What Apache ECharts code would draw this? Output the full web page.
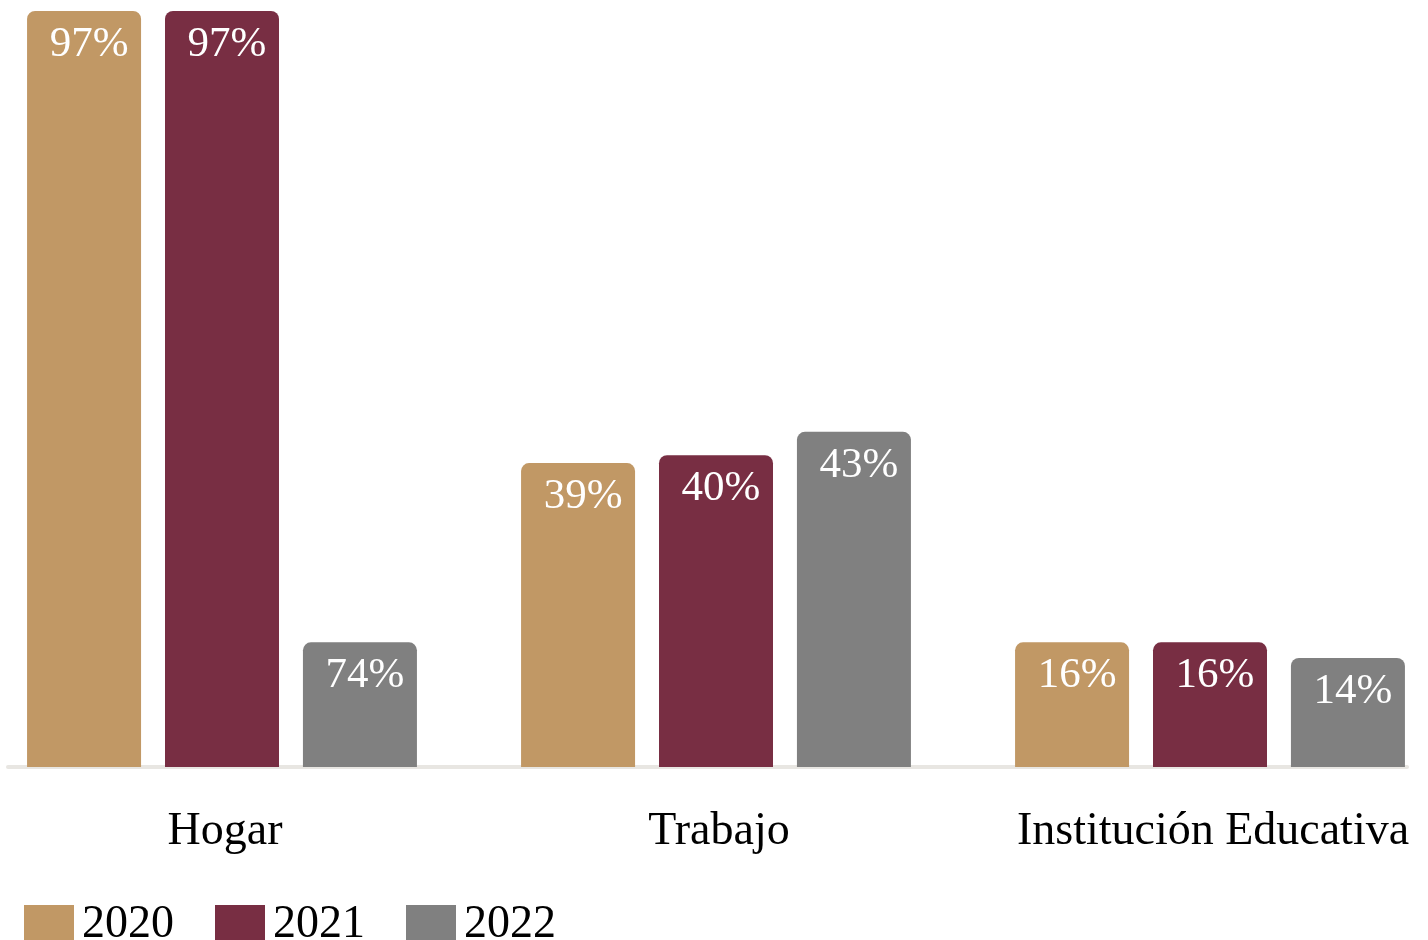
<!DOCTYPE html>
<html>
<head>
<meta charset="utf-8">
<script src="https://cdn.jsdelivr.net/npm/echarts@6/dist/echarts.min.js"></script>
<style>
  html, body { margin: 0; padding: 0; background: #fff; overflow: hidden; }
  #chart { width: 1482px; height: 940px; margin-left: -25px; }
</style>
</head>
<body>
<div id="chart"></div>
<script>
  // categorias y valores (%) tal como se dibujan
  var categories = ['Hogar', 'Trabajo', 'Institución Educativa'];
  var years = ['2020', '2021', '2022'];
  var data2020 = [97, 39, 16];
  var data2021 = [97, 40, 16];
  var data2022 = [16, 43, 14];
  // textos de etiqueta (en el original la barra de Hogar 2022 dice 74%)
  var labels2020 = ['97%', '39%', '16%'];
  var labels2021 = ['97%', '40%', '16%'];
  var labels2022 = ['74%', '43%', '14%'];
  var colors = ['#C19865', '#782E43', '#808080'];

  var serif = "'Liberation Serif', 'Times New Roman', serif";
  var myChart = echarts.init(document.getElementById('chart'));

  function barSeries(name, data, labels, color){
    return {
      name: name,
      type: 'bar',
      xAxisIndex: 0,
      yAxisIndex: 0,
      barWidth: 114,
      barGap: '21%',
      data: data,
      itemStyle: {
        color: color,
        borderRadius: [8, 8, 0, 0]
      },
      label: {
        show: true,
        position: 'insideTop',
        distance: 12,
        offset: [5, 0],
        color: '#fff',
        fontFamily: serif,
        fontSize: 43,
        formatter: function(p){ return labels[p.dataIndex] }
      }
    }
  }

  var option = {
    animation: false,
    backgroundColor: '#fff',
    color: colors,
    grid: [
      { left: 0, right: 0, top: 11, bottom: 173 },
      { left: 33, right: 50, top: 11, bottom: 173 }
    ],
    legend: {
      data: years,
      left: 44,
      top: 897,
      itemWidth: 50,
      itemHeight: 40,
      itemGap: 41,
      icon: 'rect',
      textStyle: { fontFamily: serif, fontSize: 46, color: '#000', padding: [0, 0, 0, 3] }
    },
    xAxis: [
      {
        type: 'category',
        gridIndex: 0,
        data: categories,
        axisLine: { show: false },
        axisTick: { show: false },
        axisLabel: {
          interval: 0,
          margin: 42,
          color: '#000',
          fontFamily: serif,
          fontSize: 46,
          padding: [0, 0, 0, 6]
        }
      },
      {
        // linea base
        type: 'category',
        gridIndex: 1,
        data: categories,
        axisLine: { show: true, lineStyle: { color: '#E8E6E2', width: 4 } },
        axisTick: { show: false },
        axisLabel: { show: false }
      }
    ],
    yAxis: [
      { type: 'value', gridIndex: 0, min: 0, max: 97, show: false },
      { type: 'value', gridIndex: 1, min: 0, max: 97, show: false }
    ],
    series: [
      barSeries(years[0], data2020, labels2020, colors[0]),
      barSeries(years[1], data2021, labels2021, colors[1]),
      barSeries(years[2], data2022, labels2022, colors[2])
    ]
  };
  myChart.setOption(option);
</script>
</body>
</html>
